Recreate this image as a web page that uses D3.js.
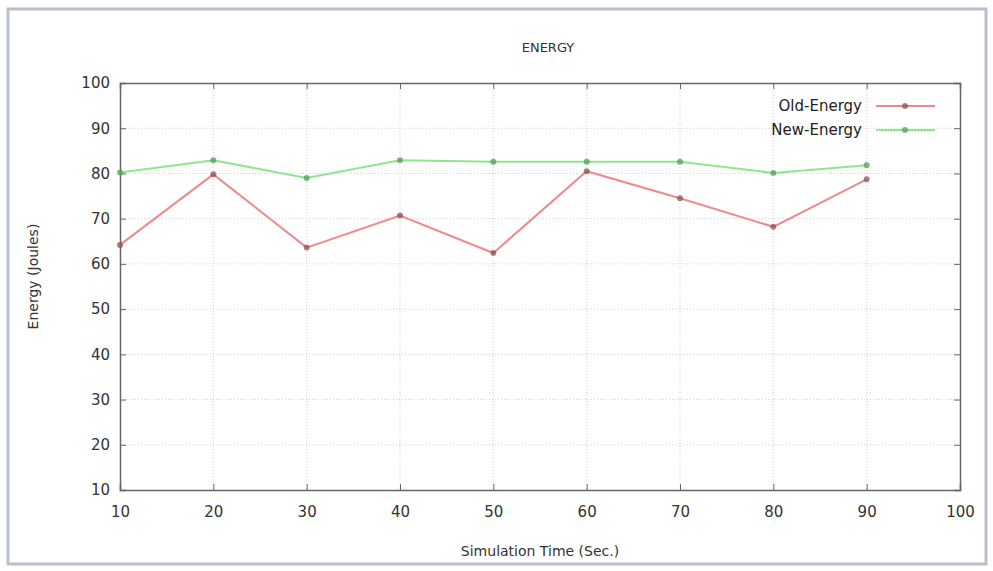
<!DOCTYPE html>
<html>
<head>
<meta charset="utf-8">
<script src="https://cdn.jsdelivr.net/npm/d3@7"></script>
<style>
  body { margin: 0; background: #fff; }
  text { font-family: "DejaVu Sans", sans-serif; }
</style>
</head>
<body>
<div id="chart"></div>
<script>
// data
const times = [10, 20, 30, 40, 50, 60, 70, 80, 90];
const oldEnergy = [64.2, 79.8, 63.6, 70.7, 62.4, 80.5, 74.5, 68.2, 78.7];
const newEnergy = [80.2, 82.9, 79.0, 82.9, 82.6, 82.6, 82.6, 80.1, 81.8];
const xTicks = [10, 20, 30, 40, 50, 60, 70, 80, 90, 100];
const yTicks = [10, 20, 30, 40, 50, 60, 70, 80, 90, 100];
const seriesNames = ["Old-Energy", "New-Energy"];

const width = 993;
const height = 571;
const margin = {t: 83, b: 81, l: 120, r: 33};

const svg = d3.select("#chart")
    .append("svg")
    .attr("width", width)
    .attr("height", height);

// outer frame
svg.append("rect")
    .attr("x", 8)
    .attr("y", 9)
    .attr("width", 978)
    .attr("height", 555)
    .attr("fill", "#fff")
    .attr("stroke", "#b9bfcc")
    .attr("stroke-width", 3);

const xScale = d3.scaleLinear()
    .domain([10, 100])
    .range([margin.l, width - margin.r]);

const yScale = d3.scaleLinear()
    .domain([10, 100])
    .range([height - margin.b, margin.t]);

// grid
svg.append("g")
    .selectAll("line")
    .data(xTicks.slice(1, -1))
    .join("line")
    .attr("x1", d => xScale(d))
    .attr("x2", d => xScale(d))
    .attr("y1", margin.t)
    .attr("y2", height - margin.b)
    .attr("stroke", "#cfcfcf")
    .attr("stroke-width", 1)
    .attr("stroke-dasharray", "1,2");

svg.append("g")
    .selectAll("line")
    .data(yTicks.slice(1, -1))
    .join("line")
    .attr("x1", margin.l)
    .attr("x2", width - margin.r)
    .attr("y1", d => yScale(d))
    .attr("y2", d => yScale(d))
    .attr("stroke", "#cfcfcf")
    .attr("stroke-width", 1)
    .attr("stroke-dasharray", "1,2");

// axes (ticks inward, mirrored)
const axisColor = "#666";
const x_axis = d3.axisBottom(xScale).tickValues(xTicks).tickSize(-6).tickPadding(16);
const gx = svg.append("g")
    .attr("transform", `translate(0, ${height - margin.b})`)
    .call(x_axis);
const x_top = d3.axisTop(xScale).tickValues(xTicks).tickSize(-6).tickFormat("");
const gxt = svg.append("g")
    .attr("transform", `translate(0, ${margin.t})`)
    .call(x_top);
const y_axis = d3.axisLeft(yScale).tickValues(yTicks).tickSize(-6).tickPadding(10);
const gy = svg.append("g")
    .attr("transform", `translate(${margin.l}, 0)`)
    .call(y_axis);
const y_right = d3.axisRight(yScale).tickValues(yTicks).tickSize(-6).tickFormat("");
const gyr = svg.append("g")
    .attr("transform", `translate(${width - margin.r}, 0)`)
    .call(y_right);

[gx, gxt, gy, gyr].forEach(g => {
    g.select(".domain").attr("stroke", axisColor).attr("stroke-width", 1.5);
    g.selectAll(".tick line").attr("stroke", axisColor);
    g.selectAll(".tick text")
        .attr("fill", "#333")
        .attr("font-size", "15px")
        .style("font-family", "DejaVu Sans, sans-serif");
});

// title and labels
svg.append("text")
    .attr("x", 548)
    .attr("y", 52)
    .attr("text-anchor", "middle")
    .attr("font-size", "13px")
    .attr("fill", "#333")
    .text("ENERGY");

svg.append("text")
    .attr("x", 540)
    .attr("y", 556)
    .attr("text-anchor", "middle")
    .attr("font-size", "14px")
    .attr("fill", "#333")
    .text("Simulation Time (Sec.)");

svg.append("text")
    .attr("transform", "rotate(-90)")
    .attr("x", -(margin.t + (height - margin.b - margin.t) / 2) + 10)
    .attr("y", 38)
    .attr("text-anchor", "middle")
    .attr("font-size", "14px")
    .attr("fill", "#333")
    .text("Energy (Joules)");

// lines
const series = [
    {name: seriesNames[0], values: oldEnergy, color: "#f08a8a", mark: "#8a4a4a"},
    {name: seriesNames[1], values: newEnergy, color: "#8fe68f", mark: "#4a9a4a"}
];

const makeLine = d3.line()
    .x((d, i) => xScale(times[i]))
    .y(d => yScale(d));

series.forEach((s, k) => {
    svg.append("path")
        .attr("fill", "none")
        .attr("stroke", s.color)
        .attr("stroke-width", 2)
        .attr("d", makeLine(s.values));

    svg.append("g")
        .selectAll("circle")
        .data(s.values)
        .join("circle")
        .attr("cx", (d, i) => xScale(times[i]))
        .attr("cy", d => yScale(d))
        .attr("r", 3)
        .attr("fill", s.mark)
        .attr("opacity", 0.7);

    // legend
    const ly = 106 + k * 24;
    svg.append("text")
        .attr("x", 862)
        .attr("y", ly + 5)
        .attr("text-anchor", "end")
        .attr("font-size", "15px")
        .attr("fill", "#222")
        .text(s.name);
    svg.append("line")
        .attr("x1", 876)
        .attr("x2", 935)
        .attr("y1", ly)
        .attr("y2", ly)
        .attr("stroke", s.color)
        .attr("stroke-width", 2);
    svg.append("circle")
        .attr("cx", 905)
        .attr("cy", ly)
        .attr("r", 3)
        .attr("fill", s.mark)
        .attr("opacity", 0.7);
});
</script>
</body>
</html>
